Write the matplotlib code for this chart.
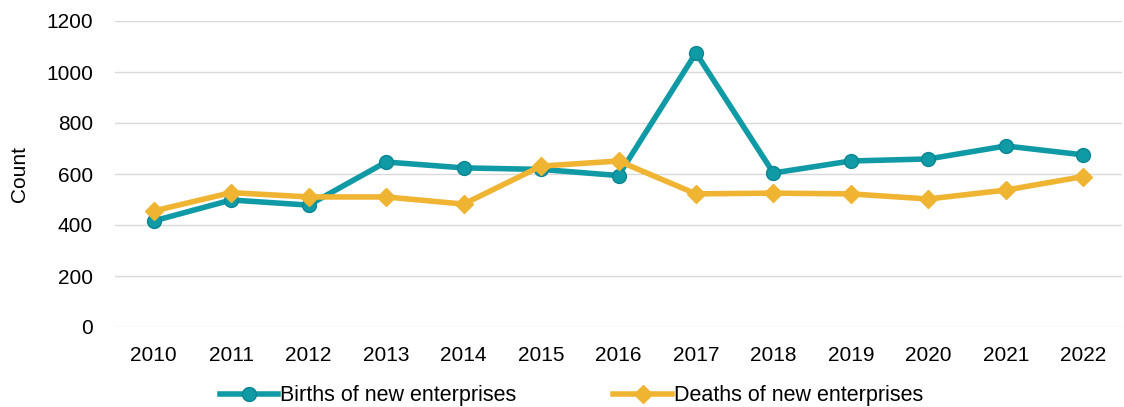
import matplotlib.pyplot as plt
from matplotlib import font_manager

# data
years = ['2010', '2011', '2012', '2013', '2014', '2015', '2016',
         '2017', '2018', '2019', '2020', '2021', '2022']
births = [416, 498, 478, 647, 624, 618, 594, 1075, 604, 651, 659, 710, 675]
deaths = [455, 527, 510, 510, 482, 631, 651, 522, 525, 522, 502, 537, 590]

teal = '#0f9aa6'
gold = '#f0b433'

names = {f.name for f in font_manager.fontManager.ttflist}
legend_font = 'Liberation Sans Narrow' if 'Liberation Sans Narrow' in names else 'Liberation Sans'
plt.rcParams['font.family'] = ['Liberation Sans', 'DejaVu Sans']

fig = plt.figure(figsize=(11.24, 4.07), dpi=100)
ax = fig.add_axes([115 / 1124, 80 / 407, 1007 / 1124, 306 / 407])

x = range(len(years))
ax.plot(x, births, color=teal, lw=4, marker='o', ms=10,
        markerfacecolor=teal, markeredgecolor='#0b8793', markeredgewidth=1,
        label='Births of new enterprises', zorder=3)
ax.plot(x, deaths, color=gold, lw=4, marker='D', ms=9,
        markerfacecolor=gold, markeredgecolor=gold,
        label='Deaths of new enterprises', zorder=4)

ax.set_xlim(-0.5, len(years) - 0.5)
ax.set_ylim(0, 1200)
ax.set_yticks(range(0, 1201, 200))
ax.set_xticks(list(x))
ax.set_xticklabels(years)
ax.grid(axis='y', color='#d9d9d9', lw=1)
ax.set_axisbelow(True)
for s in ax.spines.values():
    s.set_visible(False)
ax.tick_params(length=0, labelsize=15, colors='black')
ax.tick_params(axis='y', pad=16)
ax.tick_params(axis='x', pad=14)
ax.set_ylabel('Count', fontsize=15, labelpad=12)

leg = fig.legend(loc='center', bbox_to_anchor=(0.5085, 11 / 407), ncol=2,
                 frameon=False, columnspacing=4.5, handlelength=2.7,
                 handletextpad=0.1, borderpad=0, borderaxespad=0,
                 prop={'family': legend_font, 'size': 15.5})

fig.savefig('out.png', dpi=100)
